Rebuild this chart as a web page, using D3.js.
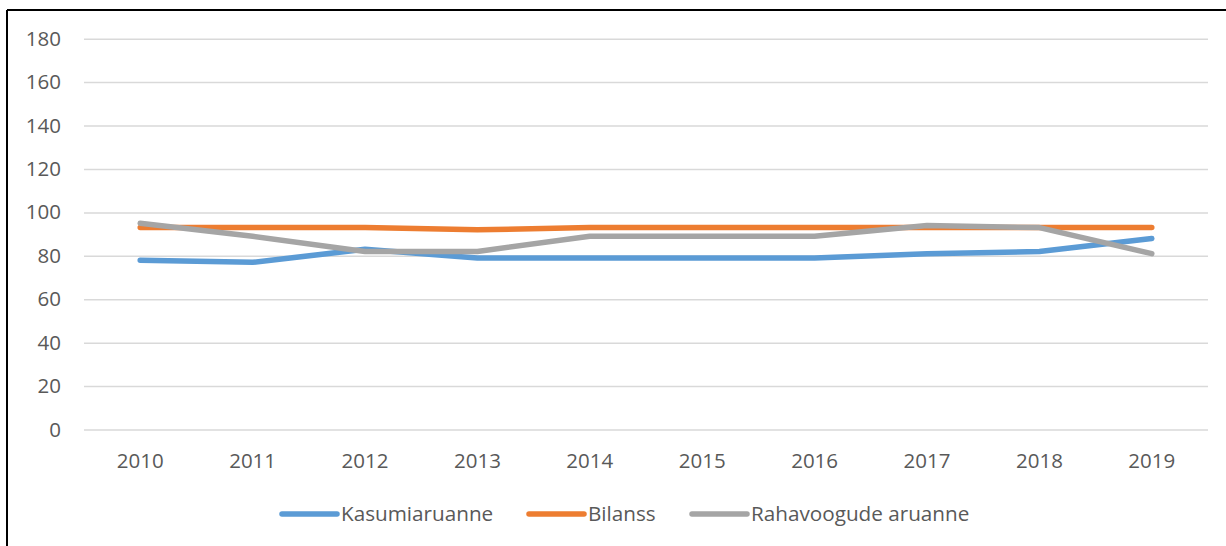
<!DOCTYPE html>
<html>
<head>
<meta charset="utf-8">
<script src="https://cdn.jsdelivr.net/npm/d3@7"></script>
<style>
  body { margin: 0; background: #fff; }
  text { font-family: "Open Sans", sans-serif; fill: #595959; }
</style>
</head>
<body>
<div id="board"></div>
<script>
// data
const years = ["2010", "2011", "2012", "2013", "2014", "2015", "2016", "2017", "2018", "2019"];
const kasumiaruanne = [78, 77, 83, 79, 79, 79, 79, 81, 82, 88];
const bilanss = [93, 93, 93, 92, 93, 93, 93, 93, 93, 93];
const rahavood = [95, 89, 82, 82, 89, 89, 89, 94, 93, 81];
const yTicks = [0, 20, 40, 60, 80, 100, 120, 140, 160, 180];
const seriesNames = ["Kasumiaruanne", "Bilanss", "Rahavoogude aruanne"];
const seriesColors = ["#5B9BD5", "#ED7D31", "#A5A5A5"];

const width = 1226;
const height = 546;
const marginLeft = 84;
const marginRight = 18;
const plotTop = 38.7;
const plotBottom = 429.5;

const x = d3.scaleBand()
    .domain(years)
    .range([marginLeft, width - marginRight]);

const y = d3.scaleLinear()
    .domain([0, 180])
    .range([plotBottom, plotTop]);

const svg = d3.create("svg")
    .attr("width", width)
    .attr("height", height);

// frame (top + left edges visible)
svg.append("line")
    .attr("x1", 7).attr("x2", width).attr("y1", 10).attr("y2", 10)
    .attr("stroke", "#000").attr("stroke-width", 2);
svg.append("line")
    .attr("x1", 7).attr("x2", 7).attr("y1", 10).attr("y2", height)
    .attr("stroke", "#000").attr("stroke-width", 2);

// y gridlines + labels
const yAxis = svg.append("g")
    .attr("transform", `translate(${marginLeft},0)`)
    .call(d3.axisLeft(y).tickValues(yTicks)
        .tickSize(-(width - marginRight - marginLeft))
        .tickPadding(23));
yAxis.select(".domain").remove();
yAxis.selectAll(".tick line").attr("stroke", "#D9D9D9").attr("stroke-width", 1.5);
yAxis.selectAll(".tick text")
    .attr("font-size", 20.5)
    .attr("font-family", "Open Sans, sans-serif")
    .attr("fill", "#595959");

// x labels
const xAxis = svg.append("g")
    .attr("transform", `translate(0,${plotBottom})`)
    .call(d3.axisBottom(x).tickSize(0).tickPadding(24));
xAxis.select(".domain").remove();
xAxis.selectAll(".tick text")
    .attr("font-size", 20.5)
    .attr("font-family", "Open Sans, sans-serif")
    .attr("fill", "#595959");

const line = d3.line()
    .x((d, i) => x(years[i]) + x.bandwidth() / 2)
    .y(d => y(d));

[kasumiaruanne, bilanss, rahavood].forEach((vals, k) => {
    svg.append("path")
        .datum(vals)
        .attr("d", line)
        .attr("fill", "none")
        .attr("stroke", seriesColors[k])
        .attr("stroke-width", 5.5)
        .attr("stroke-linecap", "round")
        .attr("stroke-linejoin", "round");
});

// legend
const legendX = [282, 529, 692];
const legend = svg.append("g");
seriesNames.forEach((name, k) => {
    const g = legend.append("g").attr("transform", `translate(${legendX[k]},514)`);
    g.append("line")
        .attr("x1", 0).attr("x2", 55)
        .attr("stroke", seriesColors[k])
        .attr("stroke-width", 5.5)
        .attr("stroke-linecap", "round");
    g.append("text")
        .attr("x", 59)
        .attr("dy", "0.35em")
        .attr("font-size", 20.7)
        .text(name);
});

document.getElementById("board").append(svg.node());
</script>
</body>
</html>
